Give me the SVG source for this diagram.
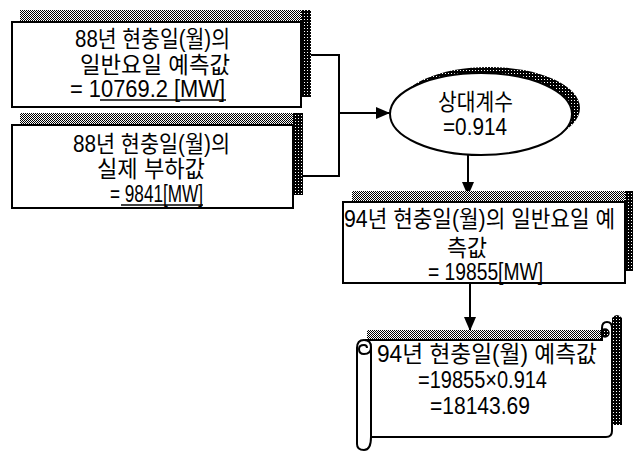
<svg xmlns="http://www.w3.org/2000/svg" width="637" height="451" viewBox="0 0 637 451">
<defs>
<pattern id="dith" width="2" height="2" patternUnits="userSpaceOnUse"><rect width="2" height="2" fill="#fff"/><rect x="0" y="0" width="1" height="1" fill="#000"/><rect x="1" y="1" width="1" height="1" fill="#000"/></pattern>
<pattern id="dark" width="3" height="3" patternUnits="userSpaceOnUse"><rect width="3" height="3" fill="#000"/><rect x="1" y="1" width="1" height="1" fill="#fff"/></pattern>
<marker id="ah" markerUnits="userSpaceOnUse" markerWidth="14" markerHeight="12" refX="14" refY="6" orient="auto"><path d="M0,0 L14,6 L0,12 Z" fill="#000"/></marker>
<style>
.box{fill:#fff;stroke:#000;stroke-width:2}
.lt{fill:url(#dith)}
.dk{fill:url(#dark)}
.t{font-family:"Liberation Sans","Noto Sans CJK KR",sans-serif;font-size:23px;fill:#000}
.ul{stroke:#000;stroke-width:1.5}
.c{fill:none;stroke:#000;stroke-width:2}
</style>
</defs>
<rect width="637" height="451" fill="#fff"/>
<g id="connectors">
<path class="c" d="M311 55 H339 V176 H303"/>
<path class="c" d="M339 113 H390" marker-end="url(#ah)"/>
<path class="c" d="M468 155 V196" marker-end="url(#ah)"/>
<path class="c" d="M470 283 V331" marker-end="url(#ah)"/>
</g>
<g id="box1">
<rect class="lt" x="20" y="10" width="291" height="12"/>
<rect class="dk" x="301" y="10" width="10" height="87"/>
<rect class="box" x="12" y="22" width="289" height="85"/>
<text class="t" x="75" y="47" textLength="155" lengthAdjust="spacingAndGlyphs">88년 현충일(월)의</text>
<text class="t" x="80" y="73" textLength="150" lengthAdjust="spacingAndGlyphs">일반요일 예측값</text>
<text class="t" x="70" y="97" textLength="155" lengthAdjust="spacingAndGlyphs">= 10769.2 [MW]</text>
<line class="ul" x1="100" y1="100" x2="226" y2="100"/>
</g>
<g id="box2">
<rect class="lt" x="20" y="113" width="283" height="12"/>
<rect class="dk" x="293" y="113" width="10" height="82"/>
<rect class="box" x="12" y="125" width="281" height="83"/>
<text class="t" x="73" y="152" textLength="157" lengthAdjust="spacingAndGlyphs">88년 현충일(월)의</text>
<text class="t" x="97" y="177" textLength="108" lengthAdjust="spacingAndGlyphs">실제 부하값</text>
<text class="t" x="110" y="202" textLength="93" lengthAdjust="spacingAndGlyphs">= 9841[MW]</text>
<line class="ul" x1="121" y1="205" x2="203" y2="205"/>
</g>
<g id="ratio">
<ellipse class="dk" cx="489" cy="108" rx="91" ry="41"/>
<ellipse class="box" cx="481" cy="114" rx="91" ry="41"/>
<text class="t" x="438" y="110" textLength="75" lengthAdjust="spacingAndGlyphs">상대계수</text>
<text class="t" x="443" y="135" textLength="64" lengthAdjust="spacingAndGlyphs">=0.914</text>
</g>
<g id="box3">
<rect class="lt" x="352" y="191" width="281" height="11"/>
<rect class="dk" x="625" y="191" width="8" height="80"/>
<rect class="box" x="343" y="202" width="282" height="81"/>
<text class="t" x="344" y="227" textLength="271" lengthAdjust="spacingAndGlyphs">94년 현충일(월)의 일반요일 예</text>
<text class="t" x="447" y="256" textLength="40" lengthAdjust="spacingAndGlyphs">측값</text>
<text class="t" x="428" y="280" textLength="115" lengthAdjust="spacingAndGlyphs">= 19855[MW]</text>
</g>
<g id="result">
<rect class="lt" x="367" y="330" width="243" height="10"/>
<path class="dk" d="M612 318 Q617 312 622 318 V425 H612 Z"/>
<path class="box" d="M365 340 H602 V328 Q602 322 607 322 Q612 322 612 328 V431 Q612 437 606 437 H368"/>
<path class="box" d="M357 348 Q357 340 364 340 Q371 340 371 347 V437 Q371 450 364 450 Q357 450 357 444 Z"/>
<path fill="none" stroke="#000" stroke-width="2" d="M371 347 Q371 354 364 354 Q359 354 359 349 Q359 345 364 345 Q367 345 367 348"/>
<circle cx="605" cy="333" r="4" fill="url(#dark)" stroke="#000" stroke-width="1.5"/>
<text class="t" x="377" y="362" textLength="220" lengthAdjust="spacingAndGlyphs">94년 현충일(월) 예측값</text>
<text class="t" x="418" y="388" textLength="129" lengthAdjust="spacingAndGlyphs">=19855×0.914</text>
<text class="t" x="430" y="414" textLength="100" lengthAdjust="spacingAndGlyphs">=18143.69</text>
</g>
</svg>
